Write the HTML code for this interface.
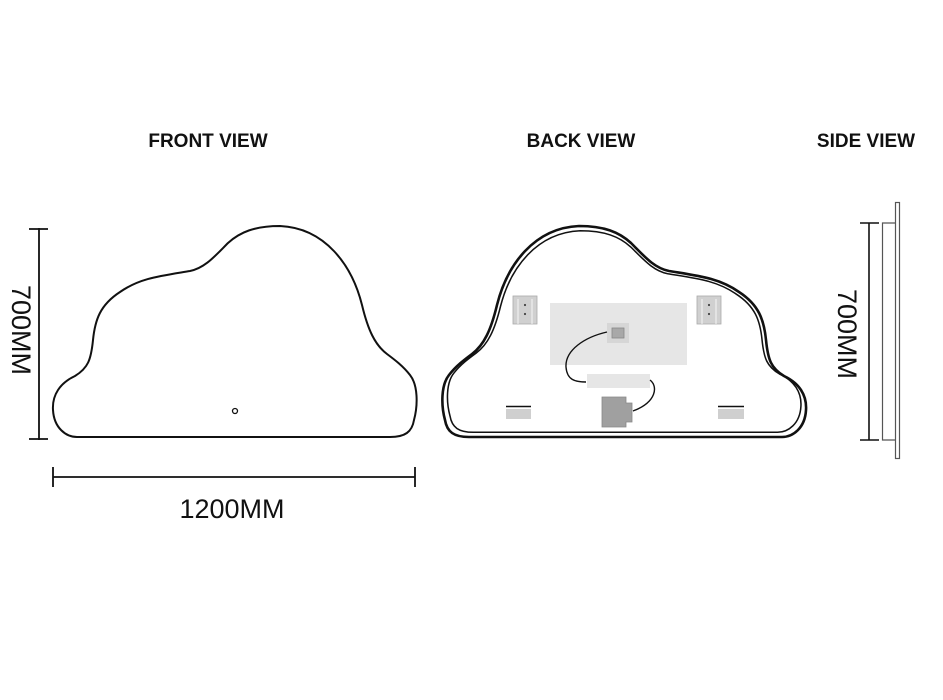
<!DOCTYPE html>
<html><head><meta charset="utf-8"><style>
html,body{margin:0;padding:0;background:#fff;}
svg{display:block;}
text{font-family:"Liberation Sans","DejaVu Sans",sans-serif;fill:#111;}
</style></head><body>
<svg width="943" height="700" viewBox="0 0 943 700" xmlns="http://www.w3.org/2000/svg">
<defs>
<path id="cloud" d="M 77,437 L 390,437 C 405,437 412,432 414,420 C 418,405 418,385 410,375 C 403,366 395,360 387,354 C 375,345 368,330 362,305 C 352,265 325,228 280,226 C 255,226 240,232 228,243 C 215,256 205,268 190,271 C 160,276 140,278 120,292 C 100,305 95,320 93,340 C 91,360 88,368 75,376 C 60,383 52,395 53,410 C 54,428 66,437 77,437 Z"/>
</defs>
<rect width="943" height="700" fill="#fff"/>
<!-- titles -->
<text x="208" y="147" font-size="19" font-weight="bold" text-anchor="middle">FRONT VIEW</text>
<text x="581" y="147" font-size="19" font-weight="bold" text-anchor="middle">BACK VIEW</text>
<text x="866" y="147" font-size="19" font-weight="bold" text-anchor="middle">SIDE VIEW</text>

<!-- front -->
<use href="#cloud" fill="none" stroke="#111" stroke-width="2"/>
<circle cx="235" cy="411" r="2.5" fill="none" stroke="#111" stroke-width="1.3"/>
<g stroke="#111" stroke-width="1.8">
<line x1="39" y1="228" x2="39" y2="440"/>
<line x1="29" y1="229" x2="48" y2="229"/>
<line x1="29" y1="439" x2="48" y2="439"/>
<line x1="53" y1="477" x2="415" y2="477"/>
<line x1="53" y1="467" x2="53" y2="487"/>
<line x1="415" y1="467" x2="415" y2="487"/>
</g>
<text x="232" y="518" font-size="27" text-anchor="middle">1200MM</text>
<text transform="translate(12,330) rotate(90)" font-size="27" text-anchor="middle">700MM</text>

<!-- back -->
<g transform="translate(859,0) scale(-1,1)">
<use href="#cloud" fill="none" stroke="#111" stroke-width="2.6"/>
<g transform="translate(235,332) scale(0.972,0.955) translate(-235,-332)">
<use href="#cloud" fill="none" stroke="#111" stroke-width="1.6"/>
</g>
</g>
<rect x="550" y="303" width="137" height="62" fill="#e6e6e6"/>
<rect x="607" y="323" width="22" height="20" fill="#d6d6d6"/>
<rect x="612" y="328" width="12" height="10" fill="#a8a8a8" stroke="#888" stroke-width="0.8"/>
<rect x="587" y="374" width="63" height="14" fill="#e6e6e6"/>
<!-- brackets -->
<g fill="#d0d0d0" stroke="#aaa" stroke-width="0.8">
<rect x="513" y="296" width="24" height="28"/>
<rect x="697" y="296" width="24" height="28"/>
</g>
<g stroke="#fff" stroke-width="0.8">
<line x1="518" y1="299" x2="518" y2="324"/><line x1="532" y1="299" x2="532" y2="324"/>
<line x1="702" y1="299" x2="702" y2="324"/><line x1="716" y1="299" x2="716" y2="324"/>
</g>
<g fill="#444"><circle cx="525" cy="305" r="1.1"/><circle cx="525" cy="314" r="1.1"/><circle cx="709" cy="305" r="1.1"/><circle cx="709" cy="314" r="1.1"/></g>
<!-- bottom pads -->
<rect x="506" y="409" width="25" height="10" fill="#cfcfcf"/>
<line x1="506" y1="406.5" x2="531" y2="406.5" stroke="#111" stroke-width="1.6"/>
<rect x="718" y="409" width="26" height="10" fill="#cfcfcf"/>
<line x1="718" y1="406.5" x2="744" y2="406.5" stroke="#111" stroke-width="1.6"/>
<!-- driver box -->
<path d="M602,397 H626 V403 H632 V422 H626 V427 H602 Z" fill="#a0a0a0" stroke="#888" stroke-width="0.8"/>
<!-- cables -->
<path d="M607,332 C585,337 565,350 566,367 C567,380 575,382 586,382" fill="none" stroke="#111" stroke-width="1.4"/>
<path d="M650,380 C658,386 657,402 633,411" fill="none" stroke="#111" stroke-width="1.4"/>

<!-- side -->
<rect x="895.5" y="202.5" width="4" height="256" fill="#fff" stroke="#555" stroke-width="1.2"/>
<path d="M895,223 H882.5 V440 H895" fill="none" stroke="#555" stroke-width="1.2"/>
<g stroke="#111" stroke-width="1.6">
<line x1="869" y1="223" x2="869" y2="440"/>
<line x1="860" y1="223" x2="879" y2="223"/>
<line x1="860" y1="440" x2="879" y2="440"/>
</g>
<text transform="translate(838,334) rotate(90)" font-size="27" text-anchor="middle">700MM</text>
</svg>
</body></html>
